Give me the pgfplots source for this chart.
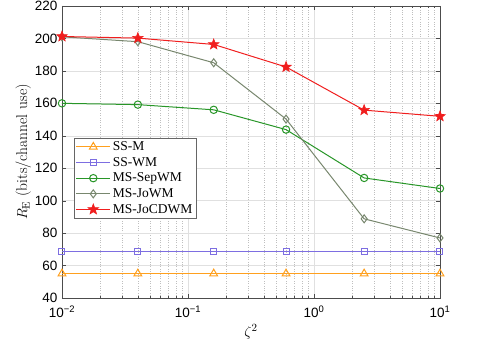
\documentclass[border=0pt]{standalone}
\usepackage{fontspec}
\usepackage{pgfplots}
\pgfplotsset{compat=1.18}
\usetikzlibrary{plotmarks}
\newfontfamily\helv{Liberation Sans}
\newfontfamily\timesfont{Liberation Serif}
\newcommand{\tickfont}{\helv\fontsize{13.5}{15}\selectfont}

\definecolor{cssm}{RGB}{255,160,30}
\definecolor{csswm}{RGB}{125,110,225}
\definecolor{csep}{RGB}{40,150,40}
\definecolor{cjo}{RGB}{120,135,110}
\definecolor{cjocd}{RGB}{240,30,30}

% filled five-pointed star
\pgfdeclareplotmark{fivestar}{%
  \pgfpathmoveto{\pgfpointpolar{90}{\pgfplotmarksize}}%
  \pgfpathlineto{\pgfpointpolar{126}{0.42\pgfplotmarksize}}%
  \pgfpathlineto{\pgfpointpolar{162}{\pgfplotmarksize}}%
  \pgfpathlineto{\pgfpointpolar{198}{0.42\pgfplotmarksize}}%
  \pgfpathlineto{\pgfpointpolar{234}{\pgfplotmarksize}}%
  \pgfpathlineto{\pgfpointpolar{270}{0.42\pgfplotmarksize}}%
  \pgfpathlineto{\pgfpointpolar{306}{\pgfplotmarksize}}%
  \pgfpathlineto{\pgfpointpolar{342}{0.42\pgfplotmarksize}}%
  \pgfpathlineto{\pgfpointpolar{18}{\pgfplotmarksize}}%
  \pgfpathlineto{\pgfpointpolar{54}{0.42\pgfplotmarksize}}%
  \pgfpathclose
  \pgfusepathqfillstroke}

\begin{document}
\begin{tikzpicture}
\useasboundingbox (-62pt,-46pt) rectangle (423pt,298pt);
\begin{axis}[
    at={(0,0)}, anchor=south west,
    scale only axis,
    width=378pt, height=292pt,
    xmode=log,
    xmin=0.01, xmax=10,
    ymin=40, ymax=220,
    ytick={40,60,...,220},
    xtick={0.01,0.1,1,10},
    xticklabels={{\tickfont 10\textsuperscript{−2}},{\tickfont 10\textsuperscript{−1}},{\tickfont 10\textsuperscript{0}},{\tickfont 10\textsuperscript{1}}},
    yticklabel={\tickfont\pgfmathprintnumber{\tick}},
    /pgf/number format/assume math mode=true,
    xticklabel style={yshift=-4pt},
    yticklabel style={xshift=-1pt},
    tick align=inside,
    major tick length=4pt, minor tick length=2pt,
    tick style={black!70},
    axis line style={black!70},
    grid=both,
    major grid style={black!12},
    minor grid style={black!25, dotted},
    xlabel={$\zeta^2$},
    ylabel={$R_{\rm E}$ (bits/channel use)},
    label style={font=\fontsize{15.5}{18}\selectfont},
    ylabel style={yshift=-3pt},
    legend style={at={(0.032,0.548)}, anchor=north west,
        font=\timesfont\fontsize{13.5}{15}\selectfont,
        draw=black!60, inner sep=1.5pt, row sep=1.2pt},
    legend cell align=left,
    legend image code/.code={\draw[mark repeat=2,mark phase=2] plot coordinates {(0pt,0pt) (17pt,0pt) (34pt,0pt)};},
    every axis plot/.append style={line width=1pt},
]
\addplot[cssm, mark=triangle, mark size=4.5pt] coordinates {
(0.01,55) (0.04,55) (0.16,55) (0.6,55) (2.5,55) (10,55)};
\addplot[csswm, mark=square, mark size=3pt] coordinates {
(0.01,68.7) (0.04,68.7) (0.16,68.7) (0.6,68.7) (2.5,68.7) (10,68.7)};
\addplot[csep, mark=o, mark size=3.7pt] coordinates {
(0.01,160) (0.04,159.2) (0.16,156) (0.6,143.8) (2.5,114) (10,107.5)};
\addplot[cjo, mark=diamond, mark size=4pt] coordinates {
(0.01,201) (0.04,198) (0.16,185) (0.6,150.3) (2.5,88.8) (10,77)};
\addplot[cjocd, mark=fivestar, mark size=5.5pt, mark options={fill=cjocd, line width=0.6pt}] coordinates {
(0.01,201.2) (0.04,200.2) (0.16,196.3) (0.6,182.4) (2.5,155.8) (10,152)};
\legend{SS-M, SS-WM, MS-SepWM, MS-JoWM, MS-JoCDWM}
\end{axis}
\end{tikzpicture}
\end{document}
